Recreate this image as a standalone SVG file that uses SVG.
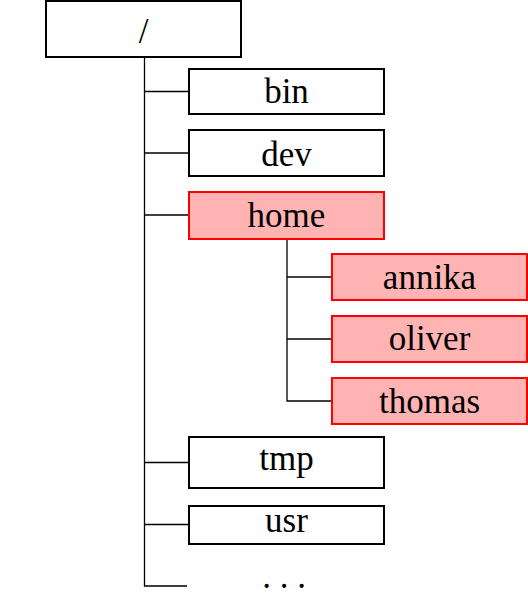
<svg xmlns="http://www.w3.org/2000/svg" width="528" height="600" viewBox="0 0 528 600">
<style>
.box{fill:#ffffff;stroke:#000000;stroke-width:2}
.red{fill:#ffb3b3;stroke:#ff0000;stroke-width:2}
.lbl{font-family:"Liberation Serif","DejaVu Serif",serif;font-size:35px;fill:#000000;text-anchor:middle}
.conn{stroke:#000000;stroke-width:1.3;fill:none}
</style>
<rect width="528" height="600" fill="#ffffff"/>
<g id="connectors">
<path class="conn" d="M144.5,57 V586 H187"/>
<path class="conn" d="M144.5,91.5 H189"/>
<path class="conn" d="M144.5,153 H189"/>
<path class="conn" d="M144.5,215 H189"/>
<path class="conn" d="M144.5,462.5 H189"/>
<path class="conn" d="M144.5,524.5 H189"/>
<path class="conn" d="M287,239 V401 H332"/>
<path class="conn" d="M287,277 H332"/>
<path class="conn" d="M287,339 H332"/>
</g>
<g id="root"><rect class="box" x="46" y="1" width="195" height="56"/><text class="lbl" x="143.5" y="43">/</text></g>
<g id="bin"><rect class="box" x="189" y="69" width="195" height="45"/><text class="lbl" x="286.5" y="103">bin</text></g>
<g id="dev"><rect class="box" x="189" y="130" width="195" height="46"/><text class="lbl" x="286.5" y="165.5">dev</text></g>
<g id="home"><rect class="red" x="189" y="192" width="195" height="47"/><text class="lbl" x="286.5" y="226.5">home</text></g>
<g id="annika"><rect class="red" x="332" y="254" width="195" height="46"/><text class="lbl" x="429.5" y="289">annika</text></g>
<g id="oliver"><rect class="red" x="332" y="316" width="195" height="46"/><text class="lbl" x="429.5" y="350">oliver</text></g>
<g id="thomas"><rect class="red" x="332" y="378" width="195" height="46"/><text class="lbl" x="429.5" y="412.5">thomas</text></g>
<g id="tmp"><rect class="box" x="189" y="437" width="195" height="51"/><text class="lbl" x="286.5" y="470">tmp</text></g>
<g id="usr"><rect class="box" x="189" y="506" width="195" height="38"/><text class="lbl" x="286.5" y="531.5">usr</text></g>
<g id="more"><text class="lbl" x="284" y="588">. . .</text></g>
</svg>
